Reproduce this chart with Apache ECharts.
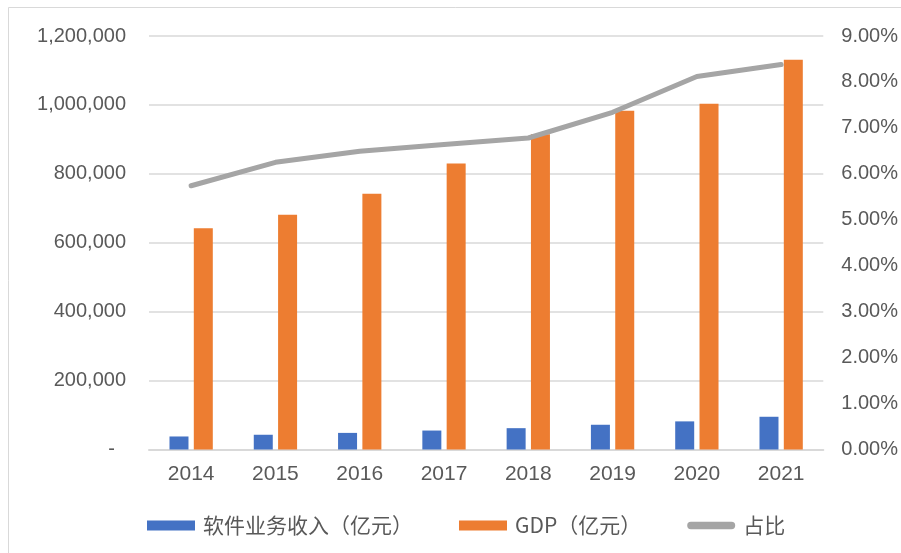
<!DOCTYPE html>
<html style="height: 100%">

<head>
  <meta charset="UTF-8" />
  <title>软件业务收入与GDP</title>
  <script src="https://cdn.jsdelivr.net/npm/echarts@6/dist/echarts.min.js"></script>
</head>

<body style="height: 100%; margin: 0; background: #fff">
  <div id="container" style="width: 901px; height: 553px"></div>
  <script>
    // values
    const years = ['2014', '2015', '2016', '2017', '2018', '2019', '2020', '2021'];
    const softwareRevenue = [37800, 42800, 48200, 55000, 61900, 71800, 81600, 95000];
    const gdp = [642000, 681000, 742000, 830000, 915000, 983000, 1003500, 1131000];
    const ratio = [5.74, 6.25, 6.49, 6.64, 6.78, 7.34, 8.12, 8.38];
    const seriesNames = ['软件业务收入（亿元）', 'GDP（亿元）', '占比'];

    const labelColor = '#595959';
    const gridColor = '#d9d9d9';
    const font = '"Liberation Sans", "Noto Sans CJK SC", sans-serif';

    const chart = echarts.init(document.getElementById('container'), null, { renderer: 'canvas' });

    const option = {
      backgroundColor: '#fff',
      animation: false,
      textStyle: { fontFamily: font },
      graphic: [{
        type: 'rect',
        shape: { x: 8.5, y: 7.5, width: 1000, height: 1000 },
        style: { fill: 'none', stroke: gridColor, lineWidth: 1 },
        silent: true
      }],
      grid: { left: 149, right: 75, top: 36, bottom: 103.5 },
      legend: {
        left: 142,
        top: 510,
        itemWidth: 48,
        itemHeight: 10,
        itemGap: 46,
        textStyle: {
          color: labelColor,
          fontSize: 21,
          fontFamily: '"Noto Sans CJK SC", sans-serif',
          padding: [0, 0, 0, 3]
        },
        data: [
          { name: seriesNames[0], icon: 'rect' },
          { name: seriesNames[1], icon: 'rect' },
          { name: seriesNames[2], icon: 'path://M4,0 L48,0 A4,4 0 0 1 48,8 L4,8 A4,4 0 0 1 4,0 Z' }
        ]
      },
      xAxis: {
        type: 'category',
        data: years,
        axisTick: { show: false },
        axisLine: { lineStyle: { color: gridColor, width: 2 } },
        axisLabel: { color: labelColor, fontSize: 21, margin: 14 }
      },
      yAxis: [{
        type: 'value',
        min: 0,
        max: 1200000,
        interval: 200000,
        axisLabel: {
          color: labelColor,
          fontSize: 20,
          margin: 23,
          formatter: v => v === 0 ? '-  ' : v.toLocaleString('en-US')
        },
        splitLine: { lineStyle: { color: gridColor, width: 1.5 } }
      }, {
        type: 'value',
        min: 0,
        max: 9,
        interval: 1,
        axisLabel: {
          color: labelColor,
          fontSize: 20,
          margin: 18,
          formatter: v => v.toFixed(2) + '%'
        },
        splitLine: { show: false }
      }],
      series: [{
        name: seriesNames[0],
        type: 'bar',
        data: softwareRevenue,
        barWidth: 19,
        barGap: '28%',
        itemStyle: { color: '#4472c4' }
      }, {
        name: seriesNames[1],
        type: 'bar',
        data: gdp,
        barWidth: 19,
        itemStyle: { color: '#ed7d31' }
      }, {
        name: seriesNames[2],
        type: 'line',
        yAxisIndex: 1,
        data: ratio,
        symbol: 'none',
        lineStyle: { color: '#a5a5a5', width: 5, cap: 'round', join: 'round' },
        itemStyle: { color: '#a5a5a5' }
      }]
    };

    chart.setOption(option);
  </script>
</body>

</html>
